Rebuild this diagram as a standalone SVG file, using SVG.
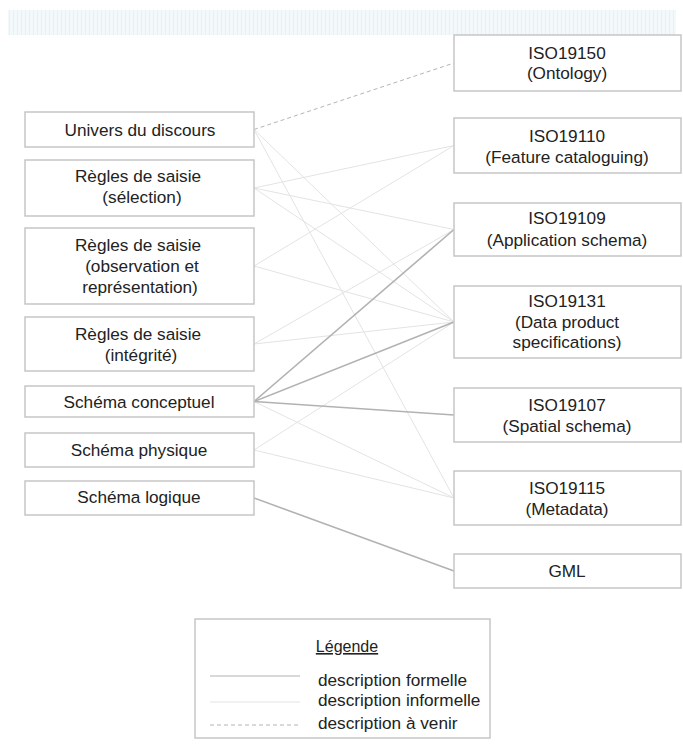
<svg xmlns="http://www.w3.org/2000/svg" width="683" height="753" viewBox="0 0 683 753">
<defs>
<pattern id="stripe" width="4" height="25" patternUnits="userSpaceOnUse">
<rect width="4" height="25" fill="#f3f9fb"/>
<rect x="1" width="1" height="25" fill="#e6f1f4"/>
</pattern>
</defs>
<style>
.box{fill:#fff;stroke:#c6c6c6;stroke-width:1.5}
.t{font-family:"Liberation Sans",Arial,sans-serif;font-size:17.2px;fill:#222;text-anchor:middle}
.lt{font-family:"Liberation Sans",Arial,sans-serif;font-size:17.2px;fill:#222}
.formal{stroke:#b2b2b2;stroke-width:1.6;fill:none}
.informal{stroke:#e3e3e3;stroke-width:1;fill:none}
.future{stroke:#b4b4b4;stroke-width:1;stroke-dasharray:4 3;fill:none}
</style>
<rect width="683" height="753" fill="#fff"/>
<rect x="8" y="10" width="668" height="25" fill="url(#stripe)"/>

<g id="connectors">
<line class="future" x1="254" y1="129.5" x2="454" y2="63"/>
<line class="informal" x1="254" y1="129.5" x2="454" y2="322"/>
<line class="informal" x1="254" y1="129.5" x2="454" y2="498"/>
<line class="informal" x1="254" y1="188" x2="454" y2="145.5"/>
<line class="informal" x1="254" y1="188" x2="454" y2="229.5"/>
<line class="informal" x1="254" y1="188" x2="454" y2="322"/>
<line class="informal" x1="254" y1="266" x2="454" y2="145.5"/>
<line class="informal" x1="254" y1="266" x2="454" y2="322"/>
<line class="informal" x1="254" y1="344" x2="454" y2="229.5"/>
<line class="informal" x1="254" y1="344" x2="454" y2="322"/>
<line class="informal" x1="254" y1="401.5" x2="454" y2="498"/>
<line class="informal" x1="254" y1="450" x2="454" y2="322"/>
<line class="informal" x1="254" y1="450" x2="454" y2="498"/>
<line class="formal" x1="254" y1="401.5" x2="454" y2="229.5"/>
<line class="formal" x1="254" y1="401.5" x2="454" y2="322"/>
<line class="formal" x1="254" y1="401.5" x2="454" y2="415"/>
<line class="formal" x1="254" y1="498" x2="454" y2="571"/>
</g>

<g id="univers"><rect class="box" x="25" y="112" width="229" height="35"/><text class="t" x="140" y="135.5">Univers du discours</text></g>
<g id="selection"><rect class="box" x="25" y="160" width="229" height="56"/><text class="t" x="138" y="182">Règles de saisie</text><text class="t" x="142" y="203">(sélection)</text></g>
<g id="observation"><rect class="box" x="25" y="228" width="229" height="76"/><text class="t" x="138" y="251">Règles de saisie</text><text class="t" x="142" y="272">(observation et</text><text class="t" x="140" y="293">représentation)</text></g>
<g id="integrite"><rect class="box" x="25" y="317" width="229" height="54"/><text class="t" x="138" y="340">Règles de saisie</text><text class="t" x="141" y="361">(intégrité)</text></g>
<g id="conceptuel"><rect class="box" x="25" y="386" width="229" height="31"/><text class="t" x="139" y="407.5">Schéma conceptuel</text></g>
<g id="physique"><rect class="box" x="25" y="433" width="229" height="34"/><text class="t" x="139" y="456">Schéma physique</text></g>
<g id="logique"><rect class="box" x="25" y="481" width="229" height="34"/><text class="t" x="139" y="503">Schéma logique</text></g>

<g id="iso19150"><rect class="box" x="454" y="35" width="227" height="56"/><text class="t" x="567" y="59">ISO19150</text><text class="t" x="567" y="79">(Ontology)</text></g>
<g id="iso19110"><rect class="box" x="454" y="118" width="227" height="55"/><text class="t" x="567" y="142">ISO19110</text><text class="t" x="567" y="163">(Feature cataloguing)</text></g>
<g id="iso19109"><rect class="box" x="454" y="203" width="227" height="53"/><text class="t" x="567" y="224">ISO19109</text><text class="t" x="567" y="246">(Application schema)</text></g>
<g id="iso19131"><rect class="box" x="454" y="286" width="227" height="72"/><text class="t" x="567" y="307">ISO19131</text><text class="t" x="567" y="328">(Data product</text><text class="t" x="567" y="348">specifications)</text></g>
<g id="iso19107"><rect class="box" x="454" y="388" width="227" height="54"/><text class="t" x="567" y="411">ISO19107</text><text class="t" x="567" y="432">(Spatial schema)</text></g>
<g id="iso19115"><rect class="box" x="454" y="471" width="227" height="54"/><text class="t" x="567" y="494">ISO19115</text><text class="t" x="567" y="515">(Metadata)</text></g>
<g id="gml"><rect class="box" x="454" y="554" width="227" height="34"/><text class="t" x="567" y="577">GML</text></g>

<g id="legende">
<rect class="box" x="195" y="619" width="295" height="119"/>
<text class="t" x="347" y="652" text-decoration="underline" style="font-size:16px">Légende</text>
<line class="formal" x1="210" y1="676" x2="300" y2="676" style="stroke-width:1"/>
<line class="informal" x1="210" y1="702" x2="300" y2="702"/>
<line class="future" x1="210" y1="725" x2="300" y2="725"/>
<text class="lt" x="318" y="686">description formelle</text>
<text class="lt" x="318" y="706">description informelle</text>
<text class="lt" x="318" y="729">description à venir</text>
</g>
</svg>
